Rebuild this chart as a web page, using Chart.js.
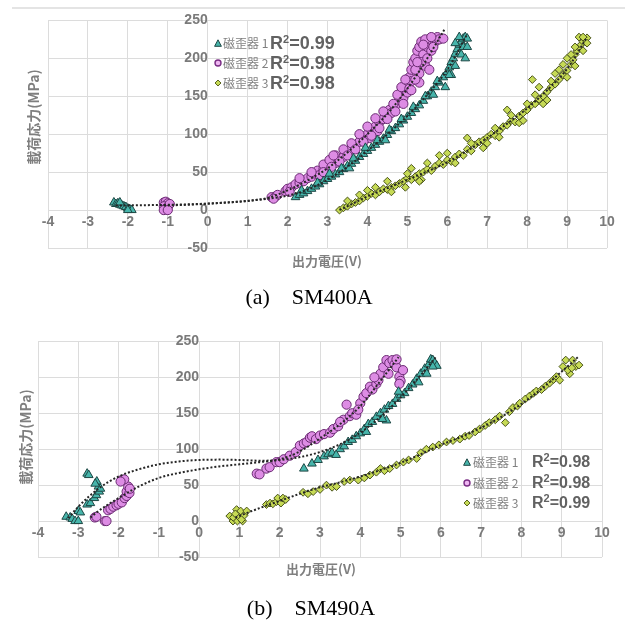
<!DOCTYPE html>
<html>
<head>
<meta charset="utf-8">
<script src="https://cdn.jsdelivr.net/npm/chart.js@4.4.0/dist/chart.umd.min.js"></script>
<style>
  body { margin: 0; background: #fff; width: 625px; height: 620px; position: relative; overflow: hidden; }
  canvas { position: absolute; left: 0; }
  #ca { top: 0; }
  #cb { top: 320px; }
  .frame { position: absolute; left: 12px; top: 7px; width: 613px; height: 2px; background: #e4e4e4; }
  .ytitle { position: absolute; transform: translate(-50%, -50%) rotate(-90deg); white-space: nowrap;
    font-family: "Noto Sans CJK JP", sans-serif; font-size: 14px; font-weight: bold; color: #7f7f7f; }
  .xtitle { position: absolute; transform: translate(-50%, -50%); white-space: nowrap;
    font-family: "Noto Sans CJK JP", sans-serif; font-size: 13px; font-weight: bold; color: #7f7f7f; }
  .caption { position: absolute; transform: translate(-50%, -50%); white-space: pre;
    font-family: "Liberation Serif", serif; font-size: 22px; color: #000; }
  .lg { position: absolute; height: 20px; line-height: 20px; white-space: nowrap; }
  .lg svg { position: absolute; top: 6px; }
  .nm { position: absolute; font-family: "Noto Sans CJK JP", sans-serif; font-size: 12px; color: #808080; }
  .r2 { position: absolute; font-family: "Liberation Sans", sans-serif; font-weight: bold; font-size: 17px; color: #626262; }
  .r2 sup { font-size: 11px; vertical-align: 6px; line-height: 0; }
</style>
</head>
<body>
<div class="frame"></div>
<canvas id="ca" width="625" height="275"></canvas>
<canvas id="cb" width="625" height="265"></canvas>

<div class="ytitle" style="left:33px;top:117px">載荷応力(MPa)</div>
<div class="xtitle" style="left:327px;top:260px">出力電圧(V)</div>
<div class="caption" style="left:309px;top:297px">(a)    SM400A</div>

<div class="ytitle" style="left:25px;top:437px">載荷応力(MPa)</div>
<div class="xtitle" style="left:321px;top:568px">出力電圧(V)</div>
<div class="caption" style="left:311px;top:608px">(b)    SM490A</div>

<div id="legA"></div>
<div id="legB"></div>

<script>
// axis ranges and steps
const xRange = [-4, 10];
const yRange = [-50, 250];
const xStep = 1;
const yStep = 50;

const seriesNames = ['磁歪器 1', '磁歪器 2', '磁歪器 3'];
const r2A = ['0.99', '0.98', '0.98'];
const r2B = ['0.98', '0.98', '0.99'];

// (a) SM400A measured points [x, y]
const aTealPts = [
  [-2.35,10],[-2.3,8],[-2.25,9],[-2.2,7],[-2.15,6],[-2.1,5],[-2.05,4],[-2.0,2],[-1.95,1],[-1.9,0],[-2.0,0],[-2.2,10],
  [2.2,17],[2.3,20],[2.4,22],[2.5,25],[2.6,28],[2.7,31],[2.8,34],[2.9,38],[3.0,41],[3.1,44],[3.2,47],[3.3,50],
  [3.4,54],[3.5,58],[3.6,61],[3.7,65],[3.8,70],[3.9,74],[4.0,78],[4.1,82],[4.2,86],[4.3,90],[4.4,94],[4.5,99],
  [4.6,104],[4.7,108],[4.8,113],[4.9,118],[5.0,123],[5.1,128],[5.2,133],[5.3,138],[5.4,144],[5.5,150],[5.6,156],
  [5.7,162],[5.8,168],[5.9,175],[6.0,182],[6.05,188],[6.1,195],[6.15,200],[6.2,206],[6.25,212],[6.3,218],
  [6.35,222],[6.4,226],[6.45,228],[6.5,226],[6.3,228],[6.2,190],[6.4,215],[6.1,178],[5.95,162],
  [2.35,26],[2.75,36],[3.05,48],[3.35,55],[3.65,68],[3.95,82],[4.25,92],[4.55,106],[4.85,120],[5.15,136],
  [5.45,150],[5.75,170],[6.05,178],[6.2,220],[6.35,205],[6.5,215],[6.45,200],[5.65,152],[4.45,92],[3.55,55]
];
const aPinkPts = [
  [-1.1,10],[-1.05,11],[-1.0,9],[-1.1,5],[-1.05,2],[-1.0,4],[-0.95,8],[-1.1,0],[-1.0,0],
  [1.6,17],[1.7,18],[1.75,20],[1.65,15],[1.95,25],[2.0,28],[2.1,30],[2.05,24],[2.2,34],[2.3,36],[2.4,38],
  [2.5,42],[2.6,44],[2.7,48],[2.75,52],[2.8,46],[2.9,54],[3.0,56],[3.1,60],[3.2,62],[3.3,68],[3.2,72],[3.4,70],
  [3.5,78],[3.6,80],[3.7,86],[3.8,90],[3.9,96],[4.0,100],[4.05,95],[4.1,106],[4.2,110],[4.25,104],[4.3,116],
  [4.4,120],[4.5,126],[4.55,132],[4.6,128],[4.7,138],[4.8,145],[4.85,152],[4.9,148],[4.95,160],[5.0,165],
  [5.05,175],[5.1,185],[5.1,170],[5.15,195],[5.2,200],[5.25,210],[5.3,215],[5.35,222],[5.4,205],[5.45,190],
  [5.5,215],[5.55,225],[5.6,210],[5.7,222],[5.75,228],[5.8,225],[5.9,226],[5.3,180],[5.35,195],[5.0,155],
  [2.3,42],[2.6,50],[2.9,60],[3.05,66],[3.4,80],[3.6,88],[3.8,100],[4.0,110],[4.2,121],[4.4,130],[4.65,140],
  [4.75,152],[4.85,162],[4.95,172],[5.05,160],[5.2,185],[5.25,195],[5.45,225],[5.6,228],[5.65,215],[5.5,200],
  [5.55,185],[5.3,168],[5.1,158],[4.9,140],[4.7,130],[4.5,120],[4.3,108],[4.1,98],[3.9,90],[3.7,80],[3.5,72],
  [3.3,64],[3.1,57],[2.9,50],[3.15,72],[5.4,218],[5.2,172]
];
const aGreenPts = [
  [3.3,0],[3.4,3],[3.5,5],[3.6,8],[3.7,10],[3.8,12],[3.9,16],[4.0,18],[4.1,22],[4.2,20],[4.3,24],[4.4,28],
  [4.5,27],[4.6,30],[4.7,32],[4.8,35],[4.9,38],[4.95,30],[5.0,42],[5.1,40],[5.2,44],[5.3,48],[5.35,40],
  [5.4,50],[5.5,54],[5.6,52],[5.7,58],[5.8,62],[5.9,60],[6.0,66],[6.1,64],[6.2,70],[6.3,74],[6.4,72],
  [6.5,80],[6.6,78],[6.7,86],[6.8,90],[6.9,92],[7.0,96],[7.1,100],[7.2,98],[7.3,104],[7.4,110],[7.5,112],
  [7.6,118],[7.7,116],[7.8,124],[7.9,128],[8.0,132],[8.1,138],[8.2,140],[8.3,146],[8.4,150],[8.5,156],
  [8.6,162],[8.7,166],[8.8,172],[8.9,178],[9.0,184],[9.1,192],[9.15,198],[9.2,205],[9.25,210],[9.3,214],
  [9.35,218],[9.4,222],[9.45,225],[9.5,227],[9.3,228],[9.2,190],[9.0,200],[8.9,192],[7.5,132],[8.3,162],
  [6.5,95],[5.1,55],[8.7,180],[9.4,210],[8.13,172],
  [3.5,12],[3.8,20],[4.0,26],[4.5,38],[4.6,24],[5.0,48],[5.5,62],[5.8,72],[6.0,75],[6.2,62],[6.6,88],[7.0,88],
  [7.2,108],[7.3,96],[7.6,125],[7.8,115],[8.0,140],[8.2,152],[8.4,140],[8.6,170],[8.8,185],[9.0,175],[9.2,215],
  [9.4,228],[9.5,220],[6.9,82],[7.9,118],[8.5,145],[9.1,205],[5.3,38],[4.2,30]
];
// (a) trendlines
const aTealFit = [[-2.3,6],[-1.5,6.5],[-0.5,7.5],[0.5,10],[1.5,15],[2,19],[2.5,27],[3,40],[3.5,57],[4,78],[4.5,100],[5,124],[5.5,152],[6,185],[6.48,230]];
const aPinkFit = [[-1.1,6],[-0.5,7],[0.5,10],[1,12],[1.5,16],[2,26],[2.5,39],[3,55],[3.5,76],[4,100],[4.5,127],[5,160],[5.5,200],[5.95,240]];
const aGreenFit = [[3.3,0],[3.5,5],[4,18],[4.5,29],[5,40],[5.5,51],[6,63],[6.5,78],[7,95],[7.5,114],[8,134],[8.5,158],[9,186],[9.5,228]];

// (b) SM490A measured points [x, y]
const bTealPts = [
  [-3.3,6],[-3.2,5],[-3.15,3],[-3.08,0],[-3.0,0],[-3.0,14],[-2.95,12],[-2.78,23],[-2.7,25],[-2.6,32],[-2.55,36],
  [-2.48,41],[-2.5,48],[-2.45,45],[-2.54,55],[-2.58,52],[-2.78,66],[-2.74,64],
  [2.6,73],[2.8,80],[2.95,85],[3.1,90],[3.2,93],[3.3,95],[3.5,100],[3.6,104],[3.7,110],[3.8,113],[3.9,118],
  [4.0,122],[4.1,128],[4.2,135],[4.3,138],[4.4,145],[4.5,150],[4.6,155],[4.7,160],[4.8,163],[4.9,170],[5.0,175],
  [5.1,178],[5.2,185],[5.3,190],[5.4,198],[5.5,205],[5.6,212],[5.7,218],[5.75,225],[5.8,224],[5.85,220],[5.9,216],
  [5.8,215],[4.65,140],[4.55,142],[3.4,92],[4.15,124],[4.95,180],[5.45,193],[5.65,205]
];
const bPinkPts = [
  [-2.59,5],[-2.55,6],[-2.34,0],[-2.3,0],[-2.26,15],[-2.2,17],[-2.13,20],[-2.05,22],[-2.0,24],[-1.92,26],
  [-1.85,32],[-1.8,35],[-1.8,41],[-1.73,39],[-1.76,48],[-1.72,45],[-1.92,57],[-1.86,58],[-1.95,55],
  [1.43,66],[1.5,65],[1.67,73],[1.75,75],[1.92,82],[2.0,82],[2.1,86],[2.25,91],[2.4,96],[2.5,105],[2.6,108],
  [2.67,110],[2.75,116],[2.8,118],[2.9,114],[3.0,119],[3.1,121],[3.25,123],[3.33,128],[3.45,132],[3.58,141],
  [3.66,162],[3.74,146],[3.8,150],[3.9,148],[4.0,164],[4.08,173],[4.15,178],[4.24,187],[4.3,183],[4.4,191],
  [4.45,196],[4.5,205],[4.57,214],[4.65,224],[4.72,220],[4.8,224],[4.85,218],[4.9,214],[4.97,201],[5.0,195],
  [5.06,210],[4.97,191],[4.9,225],[3.5,138],[3.95,155],[4.35,200],[4.7,205]
];
const bGreenPts = [
  [0.76,7],[0.84,0],[0.85,5],[0.93,16],[0.95,0],[1.0,5],[1.03,14],[1.08,0],[1.12,8],[1.18,14],[0.9,10],[1.05,2],
  [1.67,23],[1.76,25],[1.83,24],[1.92,27],[1.95,32],[2.03,25],[2.08,32],[2.15,30],[2.58,40],[2.7,38],[2.83,41],
  [3.0,44],[3.16,50],[3.3,47],[3.41,48],[3.6,55],[3.74,57],[3.95,57],[4.1,60],[4.24,64],[4.4,68],[4.5,73],
  [4.6,70],[4.73,73],[4.9,78],[5.07,82],[5.2,85],[5.4,87],[5.5,95],[5.64,100],[5.8,103],[5.95,106],[6.14,110],
  [6.3,112],[6.47,114],[6.6,118],[6.7,119],[6.85,124],[6.96,128],[7.1,133],[7.2,137],[7.35,141],[7.46,146],
  [7.6,137],[7.7,152],[7.79,158],[7.9,160],[7.96,164],[8.1,170],[8.2,174],[8.3,178],[8.37,181],[8.5,183],
  [8.6,188],[8.7,192],[8.8,197],[8.87,201],[8.95,196],[9.03,215],[9.1,224],[9.2,205],[9.27,224],[9.35,215],
  [9.43,217],[9.15,210],[9.25,213]
];
// (b) trendlines
const bTealFit = [[-3.25,4],[-3,20],[-2.5,45],[-2,62],[-1.5,72],[-1,79],[-0.5,83],[0,85],[0.5,85.5],[1,85],[1.5,84],[2,85],[2.5,89],[3,96],[3.5,107],[4,123],[4.5,145],[5,172],[5.5,203],[5.9,230]];
const bPinkFit = [[-2.7,5],[-2.5,14],[-2,32],[-1.5,48],[-1,60],[-0.5,67],[0,72],[0.5,76],[1,79],[1.5,82],[2,86],[2.5,97],[3,115],[3.5,135],[4,160],[4.5,195],[4.95,228]];
const bGreenFit = [[0.9,5],[1.5,18],[2,28],[2.5,38],[3,47],[3.5,54],[4,62],[4.5,71],[5,81],[5.5,93],[6,106],[6.5,117],[7,130],[7.5,145],[8,163],[8.5,184],[9,208],[9.4,228]];

const marks = [
  { style: 'triangle', radius: 5,   fill: '#47b5ab', line: '#1d4744' },
  { style: 'circle',   radius: 4.6, fill: '#dd8ce4', line: '#6a2a72' },
  { style: 'rectRot',  radius: 3.9, fill: '#c6da55', line: '#48521a' }
];

const toXY = arr => arr.map(p => ({ x: p[0], y: p[1] }));

function makeChart(id, pts, fits, pad, yPad) {
  const datasets = [];
  fits.forEach(f => datasets.push({
    data: toXY(f), showLine: true, pointRadius: 0, borderColor: '#262626', borderWidth: 2,
    borderDash: [2, 2], cubicInterpolationMode: 'monotone', fill: false
  }));
  pts.forEach((p, i) => datasets.push({
    data: toXY(p), pointStyle: marks[i].style, pointRadius: marks[i].radius,
    backgroundColor: marks[i].fill, borderColor: marks[i].line, borderWidth: 1
  }));
  const tickFont = { family: 'Liberation Sans', size: 14, weight: 'bold' };
  return new Chart(document.getElementById(id), {
    type: 'scatter',
    data: { datasets },
    options: {
      responsive: false,
      animation: false,
      layout: { padding: pad },
      plugins: { legend: { display: false }, tooltip: { enabled: false } },
      scales: {
        x: {
          type: 'linear', position: { y: 0 }, min: xRange[0], max: xRange[1],
          ticks: { stepSize: xStep, autoSkip: false, color: '#7a7a7a', font: tickFont, padding: 4, maxRotation: 0 },
          grid: { color: '#dcdcdc', drawTicks: false },
          border: { display: false }
        },
        y: {
          type: 'linear', position: { x: 0 }, min: yRange[0], max: yRange[1],
          ticks: { stepSize: yStep, autoSkip: false, color: '#7a7a7a', font: tickFont, padding: yPad },
          grid: { color: '#dcdcdc', drawTicks: false },
          border: { display: false }
        }
      }
    }
  });
}

makeChart('ca', [aTealPts, aPinkPts, aGreenPts], [aTealFit, aPinkFit, aGreenFit],
  { left: 48, right: 18, top: 18, bottom: 27 }, 12);
makeChart('cb', [bTealPts, bPinkPts, bGreenPts], [bTealFit, bPinkFit, bGreenFit],
  { left: 38, right: 23, top: 18, bottom: 28 }, 13);

// legends (html text)
const markerSvg = [
  '<svg width="8" height="8"><polygon points="4,0.8 7.4,7.3 0.6,7.3" fill="#47b5ab" stroke="#1d4744" stroke-width="1"/></svg>',
  '<svg width="8" height="8"><circle cx="4" cy="4" r="3" fill="#efb6f2" stroke="#7a2d85" stroke-width="1.4"/></svg>',
  '<svg width="8" height="8"><polygon points="4,1 7,4 4,7 1,4" fill="#c6da55" stroke="#5a6420" stroke-width="1"/></svg>'
];
function buildLegend(elId, rowsY, mx, nameX, r2X, r2, r2Size) {
  const el = document.getElementById(elId);
  rowsY.forEach((cy, i) => {
    const row = document.createElement('div');
    row.className = 'lg';
    row.style.left = '0px';
    row.style.top = (cy - 10) + 'px';
    row.innerHTML =
      markerSvg[i].replace('<svg', '<svg style="left:' + (mx - 4) + 'px"') +
      '<span class="nm" style="left:' + nameX + 'px">' + seriesNames[i] + '</span>' +
      '<span class="r2" style="left:' + r2X + 'px;font-size:' + r2Size + 'px">R<sup>2</sup>=' + r2[i] + '</span>';
    el.appendChild(row);
  });
}
buildLegend('legA', [43, 63, 83], 218, 223, 270, r2A, 18);
buildLegend('legB', [462, 483, 503], 467, 473, 532, r2B, 16);
</script>
</body>
</html>
